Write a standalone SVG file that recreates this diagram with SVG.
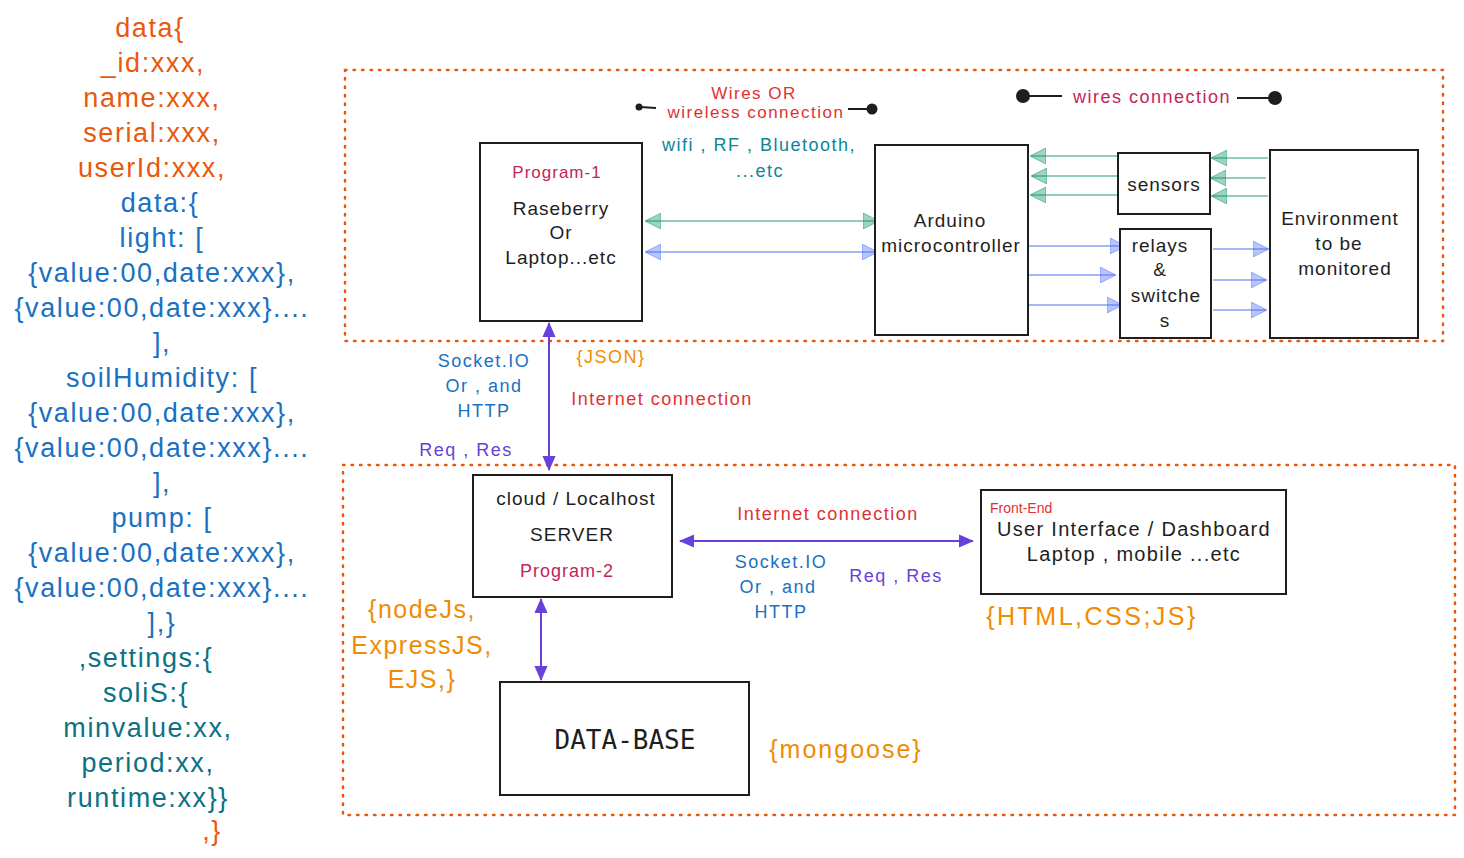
<svg xmlns="http://www.w3.org/2000/svg" width="1464" height="858" viewBox="0 0 1464 858">
<style>
text{font-family:"Liberation Sans","Open Sans",sans-serif;text-anchor:middle}
.box{fill:#fff;stroke:#1e1e1e;stroke-width:2}
.zone{fill:none;stroke:#e8590c;stroke-width:2.5;stroke-dasharray:1.5 7;stroke-linecap:round}
.blk{fill:#1e1e1e;font-size:19px;letter-spacing:1px}
.js{font-size:27px;letter-spacing:1.6px}
.or{fill:#e8590c}
.bl{fill:#1971c2}
.tl{fill:#0b7285}
.tech{fill:#f08c00;font-size:25px;letter-spacing:1.5px}
.lbl{font-size:18px;letter-spacing:1.5px}
.red{fill:#e03131}
.crim{fill:#c2255c}
.pur{fill:#6741d9}
.cyan{fill:#0c8599}
.g{stroke:#099268;stroke-opacity:.45;stroke-width:2;fill:none}
.b{stroke:#4c6ef5;stroke-opacity:.5;stroke-width:2;fill:none}
.p{stroke:#6741d9;stroke-width:2;fill:none}
.dotline{stroke:#1e1e1e;stroke-width:2;fill:none}
</style>
<defs>
<marker id="ag" viewBox="0 0 16 16" refX="15" refY="8" markerWidth="16" markerHeight="16" markerUnits="userSpaceOnUse" orient="auto-start-reverse">
<path d="M0,0 L16,8 L0,16 Z" fill="#099268" fill-opacity=".4" stroke="#099268" stroke-opacity=".5"/>
</marker>
<marker id="ab" viewBox="0 0 16 16" refX="15" refY="8" markerWidth="16" markerHeight="16" markerUnits="userSpaceOnUse" orient="auto-start-reverse">
<path d="M0,0 L16,8 L0,16 Z" fill="#4c6ef5" fill-opacity=".4" stroke="#4c6ef5" stroke-opacity=".5"/>
</marker>
<marker id="ap" viewBox="0 0 16 16" refX="15" refY="8" markerWidth="15" markerHeight="15" markerUnits="userSpaceOnUse" orient="auto-start-reverse">
<path d="M0,1 L16,8 L0,15 Z" fill="#6741d9"/>
</marker>
</defs>

<g id="zones">
<rect class="zone" x="345" y="70" width="1098" height="271"/>
<rect class="zone" x="343" y="465" width="1112" height="350"/>
</g>

<g id="schema">
<text class="js or" x="150" y="37">data{</text>
<text class="js or" x="153" y="72">_id:xxx,</text>
<text class="js or" x="152" y="107">name:xxx,</text>
<text class="js or" x="152" y="142">serial:xxx,</text>
<text class="js or" x="152" y="177">userId:xxx,</text>
<text class="js bl" x="160" y="212">data:{</text>
<text class="js bl" x="162" y="247">light: [</text>
<text class="js bl" x="162" y="282">{value:00,date:xxx},</text>
<text class="js bl" x="162" y="317">{value:00,date:xxx}....</text>
<text class="js bl" x="162" y="352">],</text>
<text class="js bl" x="162" y="387">soilHumidity: [</text>
<text class="js bl" x="162" y="422">{value:00,date:xxx},</text>
<text class="js bl" x="162" y="457">{value:00,date:xxx}....</text>
<text class="js bl" x="162" y="492">],</text>
<text class="js bl" x="162" y="527">pump: [</text>
<text class="js bl" x="162" y="562">{value:00,date:xxx},</text>
<text class="js bl" x="162" y="597">{value:00,date:xxx}....</text>
<text class="js bl" x="162" y="632">],}</text>
<text class="js tl" x="146" y="667">,settings:{</text>
<text class="js tl" x="146" y="702">soliS:{</text>
<text class="js tl" x="148" y="737">minvalue:xx,</text>
<text class="js tl" x="148" y="772">period:xx,</text>
<text class="js tl" x="148" y="807">runtime:xx}}</text>
<text class="js or" x="212" y="840">,}</text>
</g>

<g id="connectors">
<line class="g" x1="646" y1="221" x2="878" y2="221" marker-start="url(#ag)" marker-end="url(#ag)"/>
<line class="b" x1="646" y1="252" x2="877" y2="252" marker-start="url(#ab)" marker-end="url(#ab)"/>
<line class="g" x1="1117" y1="156" x2="1031" y2="156" marker-end="url(#ag)"/>
<line class="g" x1="1117" y1="176" x2="1032" y2="176" marker-end="url(#ag)"/>
<line class="g" x1="1117" y1="195" x2="1031" y2="195" marker-end="url(#ag)"/>
<line class="g" x1="1268" y1="158" x2="1212" y2="158" marker-end="url(#ag)"/>
<line class="g" x1="1266" y1="178" x2="1211" y2="178" marker-end="url(#ag)"/>
<line class="g" x1="1268" y1="196" x2="1212" y2="196" marker-end="url(#ag)"/>
<line class="b" x1="1029" y1="246" x2="1125" y2="246" marker-end="url(#ab)"/>
<line class="b" x1="1029" y1="275" x2="1115" y2="275" marker-end="url(#ab)"/>
<line class="b" x1="1029" y1="305" x2="1122" y2="305" marker-end="url(#ab)"/>
<line class="b" x1="1213" y1="249" x2="1268" y2="249" marker-end="url(#ab)"/>
<line class="b" x1="1213" y1="280" x2="1266" y2="280" marker-end="url(#ab)"/>
<line class="b" x1="1213" y1="310" x2="1266" y2="310" marker-end="url(#ab)"/>
<line class="p" x1="549" y1="323" x2="549" y2="470" marker-start="url(#ap)" marker-end="url(#ap)"/>
<line class="p" x1="680" y1="541" x2="973" y2="541" marker-start="url(#ap)" marker-end="url(#ap)"/>
<line class="p" x1="541" y1="599" x2="541" y2="680" marker-start="url(#ap)" marker-end="url(#ap)"/>
</g>

<g id="legend-wireless">
<line class="dotline" x1="640" y1="107" x2="656" y2="108"/>
<circle cx="639" cy="107" r="3.5" fill="#1e1e1e"/>
<line class="dotline" x1="848" y1="109" x2="868" y2="109"/>
<circle cx="872" cy="109" r="5.5" fill="#1e1e1e"/>
<text class="red" x="754" y="99" font-size="17" style="letter-spacing:1.5px">Wires OR</text>
<text class="red" x="756" y="118" font-size="17" style="letter-spacing:1.5px">wireless connection</text>
<text class="lbl cyan" x="759" y="151">wifi , RF , Bluetooth,</text>
<text class="lbl cyan" x="760" y="177">...etc</text>
</g>

<g id="legend-wires">
<circle cx="1023" cy="96" r="7" fill="#1e1e1e"/>
<line class="dotline" x1="1028" y1="96" x2="1062" y2="96"/>
<line class="dotline" x1="1237" y1="98" x2="1270" y2="98"/>
<circle cx="1275" cy="98" r="7" fill="#1e1e1e"/>
<text class="lbl crim" x="1152" y="103">wires connection</text>
</g>

<g id="program1">
<rect class="box" x="480" y="143" width="162" height="178"/>
<text class="crim" x="557" y="178" font-size="17" style="letter-spacing:1px">Program-1</text>
<text class="blk" x="561" y="215">Raseberry</text>
<text class="blk" x="561" y="239">Or</text>
<text class="blk" x="561" y="264">Laptop...etc</text>
</g>

<g id="arduino">
<rect class="box" x="875" y="145" width="153" height="190"/>
<text class="blk" x="950" y="227">Arduino</text>
<text class="blk" x="951" y="252">microcontroller</text>
</g>

<g id="sensors">
<rect class="box" x="1118" y="153" width="92" height="61"/>
<text class="blk" x="1164" y="191">sensors</text>
</g>

<g id="relays">
<rect class="box" x="1120" y="229" width="91" height="109"/>
<text class="blk" x="1160" y="252">relays</text>
<text class="blk" x="1160" y="276">&amp;</text>
<text class="blk" x="1166" y="302">switche</text>
<text class="blk" x="1165" y="327">s</text>
</g>

<g id="environment">
<rect class="box" x="1270" y="150" width="148" height="188"/>
<text class="blk" x="1340" y="225">Environment</text>
<text class="blk" x="1339" y="250">to be</text>
<text class="blk" x="1345" y="275">monitored</text>
</g>

<g id="labels-mid">
<text class="lbl bl" x="484" y="367">Socket.IO</text>
<text class="lbl bl" x="484" y="392">Or , and</text>
<text class="lbl bl" x="484" y="417">HTTP</text>
<text class="lbl" fill="#f08c00" x="611" y="363">{JSON}</text>
<text class="lbl red" x="662" y="405">Internet connection</text>
<text class="lbl pur" x="466" y="456">Req , Res</text>
</g>

<g id="server">
<rect class="box" x="473" y="475" width="199" height="122"/>
<text class="blk" x="576" y="505">cloud / Localhost</text>
<text class="blk" x="572" y="541">SERVER</text>
<text class="crim" x="567" y="577" font-size="18" style="letter-spacing:1px">Program-2</text>
</g>

<g id="labels-server-front">
<text class="lbl red" x="828" y="520">Internet connection</text>
<text class="lbl bl" x="781" y="568">Socket.IO</text>
<text class="lbl bl" x="778" y="593">Or , and</text>
<text class="lbl bl" x="781" y="618">HTTP</text>
<text class="lbl pur" x="896" y="582">Req , Res</text>
</g>

<g id="frontend">
<rect class="box" x="981" y="490" width="305" height="104"/>
<text class="red" x="990" y="513" font-size="14" style="text-anchor:start">Front-End</text>
<text class="blk" x="1134" y="536" style="font-size:20px;letter-spacing:1.3px">User Interface / Dashboard</text>
<text class="blk" x="1134" y="561" style="font-size:20px;letter-spacing:1.3px">Laptop , mobile ...etc</text>
</g>
<text class="tech" x="1092" y="625" style="letter-spacing:2.5px">{HTML,CSS;JS}</text>

<g id="tech-server">
<text class="tech" x="422" y="618">{nodeJs,</text>
<text class="tech" x="422" y="654">ExpressJS,</text>
<text class="tech" x="422" y="688">EJS,}</text>
</g>

<g id="database">
<rect class="box" x="500" y="682" width="249" height="113"/>
<text x="625" y="749" font-size="26" fill="#1e1e1e" style="font-family:'DejaVu Sans Mono','Liberation Mono',monospace">DATA-BASE</text>
</g>
<text class="tech" x="846" y="758" style="letter-spacing:2px">{mongoose}</text>
</svg>
